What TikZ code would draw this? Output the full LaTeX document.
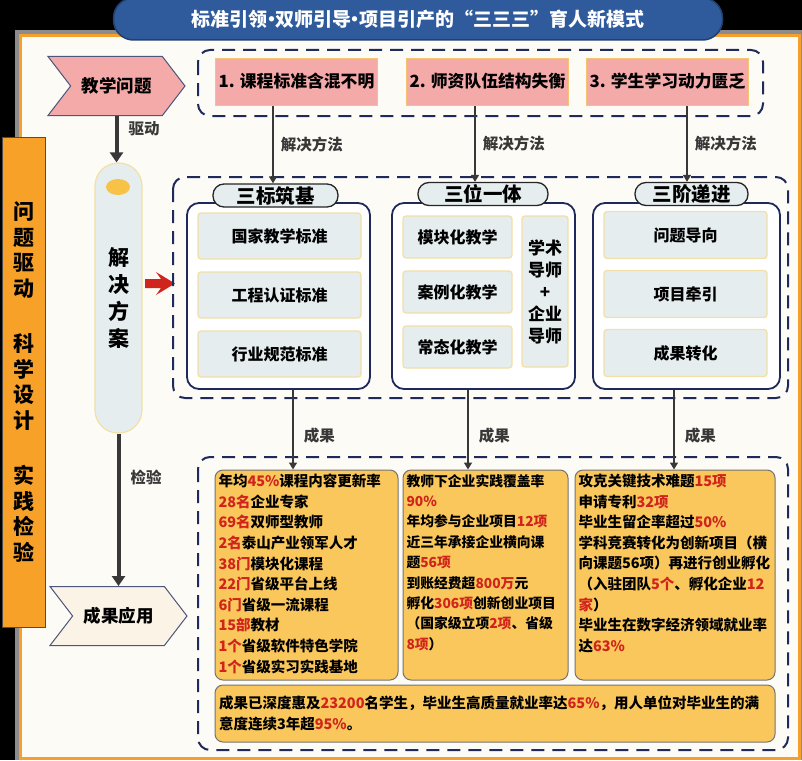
\documentclass[tikz,border=0pt]{standalone}
\usepackage{fontspec}
\setmainfont{Noto Sans CJK SC}
\usetikzlibrary{arrows.meta, shapes.symbols}
\definecolor{ink}{HTML}{1F2A5A}
\definecolor{panel}{HTML}{FDFBF6}
\definecolor{rimgray}{HTML}{8C8C8C}
\definecolor{rimorange}{HTML}{F5A02C}
\definecolor{barorange}{HTML}{F7A128}
\definecolor{titleblue}{HTML}{2F5B9C}
\definecolor{pinkbox}{HTML}{F5AAAA}
\definecolor{cream}{HTML}{FBF3E6}
\definecolor{mist}{HTML}{E5EDEF}
\definecolor{straw}{HTML}{F2E0A6}
\definecolor{gold}{HTML}{F9C75B}
\definecolor{yolk}{HTML}{F8C246}
\definecolor{hot}{HTML}{D0241C}
\definecolor{arrowgray}{HTML}{383838}
\newcommand{\rd}[1]{\textcolor{hot}{#1}}
\newcommand{\tdot}{\kern-0.3em·\kern-0.3em}

\begin{document}
\begin{tikzpicture}[x=1pt, y=-1pt,
    every node/.style={font=\bfseries},
    titlebar/.style={rectangle, rounded corners=20pt, fill=titleblue, draw=titleblue!70!black,
                     line width=1.5pt, minimum width=609pt, minimum height=42pt, text=white,
                     font=\bfseries\fontsize{19}{20}\selectfont},
    sidebar/.style={rectangle, fill=barorange, draw=black!70, line width=0.8pt, inner sep=0pt,
                    minimum width=43pt, minimum height=490pt, align=center,
                    font=\bfseries\fontsize{21}{25.5}\selectfont},
    chev/.style={signal, signal from=west, signal to=east, signal pointer angle=105,
                 draw=ink!80, line width=1pt, minimum width=137pt, minimum height=59pt,
                 inner sep=0pt, font=\bfseries\fontsize{17.5}{20}\selectfont},
    plan/.style={rectangle, rounded corners=23pt, fill=mist, draw=straw, line width=1.2pt,
                 minimum width=47pt, minimum height=270pt, align=center, inner sep=0pt,
                 font=\bfseries\fontsize{21}{26.7}\selectfont},
    probbox/.style={rectangle, fill=pinkbox, draw=straw!70!orange, line width=1pt,
                    minimum width=161pt, minimum height=47pt,
                    font=\bfseries\fontsize{16.8}{18}\selectfont},
    dashbox/.style={draw=ink, line width=2pt, dash pattern=on 13pt off 8pt, rounded corners=12pt},
    group/.style={rectangle, draw=ink, line width=1.8pt, fill=white, rounded corners=12pt,
                  minimum height=186pt},
    tagbox/.style={rectangle, rounded corners=11pt, draw=black!85, line width=1.3pt, fill=mist,
                   minimum height=23pt, inner sep=0pt,
                   font=\bfseries\fontsize{19.5}{20}\selectfont},
    item/.style={rectangle, draw=straw, fill=mist, line width=1.3pt, rounded corners=3pt,
                 font=\bfseries\fontsize{16}{18}\selectfont},
    res/.style={rectangle, draw=black!55, fill=gold, line width=1pt, rounded corners=8pt,
                inner sep=3pt, font=\bfseries\fontsize{14.5}{20.6}\selectfont},
    lab/.style={font=\bfseries\fontsize{15.5}{18}\selectfont, inner sep=1pt},
    arr/.style={-{Triangle[length=7pt, width=8pt]}, line width=1.5pt, color=arrowgray},
    bigarr/.style={-{Triangle[length=10pt, width=13pt]}, line width=4pt, color=arrowgray},
]
\useasboundingbox (0,0) rectangle (802,760);

% frame
\fill[black] (0,0) rectangle (802,760);
\fill[rimgray] (15,30) rectangle (802,760);
\draw[rimorange, line width=3pt, fill=panel] (20,36) rectangle (799,758);

\node[titlebar] (title) at (418,19)
    {标准引领\tdot 双师引导\tdot 项目引产的“三三三”育人新模式};

\node[sidebar] (side) at (23.5,382)
    {问\\题\\驱\\动\\[30pt]科\\学\\设\\计\\[30pt]实\\践\\检\\验};

% left column
\node[chev, fill=pinkbox] (issue) at (116.5,86) {教学问题};
\node[plan] (plan) at (118.5,298) {解\\决\\方\\案};
\fill[yolk] (118,187) ellipse [x radius=12pt, y radius=8pt];
\node[chev, fill=cream] (apply) at (118.5,616) {成果应用};

\draw[bigarr] (issue.south) -- (issue.south |- plan.north)
    node[lab, pos=0.27, right=9pt] {驱动};
\draw[bigarr] (plan.south) -- (plan.south |- apply.north)
    node[lab, pos=0.29, right=9pt] {检验};

\fill[hot] (145,279) -- (161,279) -- (156,272) -- (175,283.5) -- (156,295)
    -- (161,288) -- (145,288) -- cycle;

% problems
\draw[dashbox] (198,50) rectangle (763,116);
\foreach \i/\x/\txt in {1/296.5/{1. 课程标准含混不明}, 2/487.5/{2. 师资队伍结构失衡},
                        3/667.5/{3. 学生学习动力匮乏}}{
    \node[probbox] (p\i) at (\x,81.5) {\txt};
}

% solutions
\draw[dashbox] (173,177) rectangle (788,398);
\node[group, minimum width=183pt] (g1) at (278.5,296) {};
\node[group, minimum width=183pt] (g2) at (483.5,296) {};
\node[group, minimum width=187pt] (g3) at (686.5,296) {};
\node[tagbox, minimum width=125pt] (t1) at (275.5,195.5) {三标筑基};
\node[tagbox, minimum width=130pt] (t2) at (483,194) {三位一体};
\node[tagbox, minimum width=113pt] (t3) at (691.5,194) {三阶递进};

\foreach \i/\y/\txt in {1/236/国家教学标准, 2/295/工程认证标准, 3/354/行业规范标准}{
    \node[item, minimum width=163pt, minimum height=46pt] (a\i) at (279.5,\y) {\txt};
}
\foreach \i/\y/\txt in {1/237/模块化教学, 2/292/案例化教学, 3/347/常态化教学}{
    \node[item, minimum width=109pt, minimum height=42pt] (b\i) at (457.5,\y) {\txt};
}
\node[item, minimum width=46pt, minimum height=151pt, align=center, inner sep=0pt,
      font=\bfseries\fontsize{17}{22}\selectfont] (mentor) at (545,291.5)
    {学术\\导师\\+\\企业\\导师};
\foreach \i/\y/\txt in {1/235/问题导向, 2/294/项目牵引, 3/353/成果转化}{
    \node[item, minimum width=163pt, minimum height=47pt] (c\i) at (685.5,\y) {\txt};
}

\coordinate (m1) at ([xshift=-2.5pt]t1.north);
\coordinate (m2) at ([xshift=-8pt]t2.north);
\coordinate (m3) at ([xshift=-4.5pt]t3.north);
\foreach \i in {1,2,3}{
    \draw[arr] (m\i |- p\i.south) -- (m\i) node[lab, midway, right=6pt] {解决方法};
}

% results
\draw[dashbox] (198,457) rectangle (788,750);
\node[res, minimum width=183pt, minimum height=210pt] (r1) at (306.5,575)
    {\parbox[c][202pt][t]{176pt}{\raggedright
    年均\rd{45\%}课程内容更新率\\
    \rd{28名}企业专家\\
    \rd{69名}双师型教师\\
    \rd{2名}泰山产业领军人才\\
    \rd{38门}模块化课程\\
    \rd{22门}省级平台上线\\
    \rd{6门}省级一流课程\\
    \rd{15部}教材\\
    \rd{1个}省级软件特色学院\\
    \rd{1个}省级实习实践基地}};
\node[res, minimum width=165pt, minimum height=210pt,
      font=\bfseries\fontsize{13.8}{20.4}\selectfont] (r2) at (485.5,575)
    {\parbox[c][202pt][t]{158pt}{\raggedright
    教师下企业实践覆盖率\\
    \rd{90\%}\\
    年均参与企业项目\rd{12项}\\
    近三年承接企业横向课\\
    题\rd{56项}\\
    到账经费超\rd{800万}元\\
    孵化\rd{306项}创新创业项目\\
    （国家级立项\rd{2项}、省级\\
    \rd{8项}）}};
\node[res, minimum width=200pt, minimum height=210pt] (r3) at (675,575)
    {\parbox[c][202pt][t]{193pt}{\raggedright
    攻克关键技术难题\rd{15项}\\
    申请专利\rd{32项}\\
    毕业生留企率超过\rd{50\%}\\
    学科竞赛转化为创新项目（横\\
    向课题56项）再进行创业孵化\\
    （入驻团队\rd{5个}、孵化企业\rd{12}\\
    \rd{家}）\\
    毕业生在数字经济领域就业率\\
    达\rd{63\%}}};
\node[res, minimum width=560pt, minimum height=57pt] (r4) at (495,713.5)
    {\parbox[c][49pt][c]{552pt}{\raggedright
    成果已深度惠及\rd{23200}名学生，毕业生高质量就业率达\rd{65\%}，用人单位对毕业生的满\\
    意度连续3年超\rd{95\%}。}};

\coordinate (k1) at ([xshift=14.5pt]g1.south);
\coordinate (k2) at ([xshift=-15.5pt]g2.south);
\coordinate (k3) at ([xshift=-12.5pt]g3.south);
\foreach \i in {1,2,3}{
    \draw[arr] (k\i) -- (k\i |- r\i.north) node[lab, pos=0.58, right=9pt] {成果};
}
\end{tikzpicture}
\end{document}
